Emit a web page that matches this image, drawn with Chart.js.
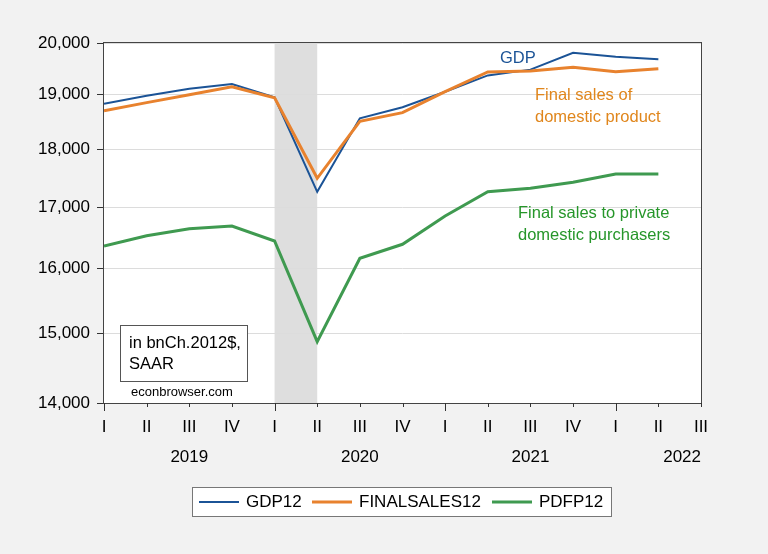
<!DOCTYPE html>
<html>
<head>
<meta charset="utf-8">
<title>GDP and final sales</title>
<script src="https://cdn.jsdelivr.net/npm/chart.js@4.4.1/dist/chart.umd.min.js"></script>
<style>
  html, body { margin: 0; padding: 0; background: #f2f2f2; }
  canvas { display: block; }
</style>
</head>
<body>
<canvas id="chart" width="768" height="554"></canvas>
<script>
    // data, bn Ch.2012$ SAAR
    var quarters = ['2019Q1', '2019Q2', '2019Q3', '2019Q4', '2020Q1', '2020Q2', '2020Q3',
        '2020Q4', '2021Q1', '2021Q2', '2021Q3', '2021Q4', '2022Q1', '2022Q2'];
    var gdp12 = [18833, 18983, 19113, 19202, 18952, 17258, 18561, 18768, 19056, 19368, 19479, 19806, 19728, 19682];
    var finalsales12 = [18702, 18853, 19002, 19153, 18945, 17491, 18508, 18666, 19058, 19434, 19453, 19525, 19440, 19498];
    var pdfp12 = [16357, 16524, 16639, 16684, 16438, 14877, 16158, 16384, 16850, 17261, 17319, 17422, 17566, 17566];
    var yTicks = [14000, 15000, 16000, 17000, 18000, 19000, 20000];
    var quarterLabels = ['I', 'II', 'III', 'IV'];
    var years = ['2019', '2020', '2021', '2022'];
    var recession = ['2020Q1', '2020Q2'];
    var axisQuarters = quarters.length + 1; // axis runs to 2022Q3

    var FONT = '"Liberation Sans", Arial, sans-serif';
    var BLUE = '#1b5396', ORANGE = '#e8822e', GREEN = '#3f9a50';

    function points(arr) {
        return arr.map(function(v, i) { return { x: i, y: v }; });
    }

    var decor = {
        id: 'decor',
        beforeDraw: function(chart) {
            var ctx = chart.ctx, a = chart.chartArea, xs = chart.scales.x;
            ctx.save();
            ctx.fillStyle = '#f2f2f2';
            ctx.fillRect(0, 0, chart.width, chart.height);
            ctx.fillStyle = '#ffffff';
            ctx.fillRect(a.left, a.top, a.right - a.left, a.bottom - a.top);
            // recession shading
            var x0 = xs.getPixelForValue(quarters.indexOf(recession[0]));
            var x1 = xs.getPixelForValue(quarters.indexOf(recession[1]));
            ctx.fillStyle = '#dedede';
            ctx.fillRect(x0, a.top, x1 - x0, a.bottom - a.top);
            ctx.restore();
        },
        afterDraw: function(chart) {
            var ctx = chart.ctx, a = chart.chartArea, xs = chart.scales.x;
            ctx.save();

            // frame
            ctx.strokeStyle = '#444';
            ctx.lineWidth = 1;
            ctx.strokeRect(a.left - 0.5, a.top - 0.5, a.right - a.left + 1, a.bottom - a.top + 1);

            // quarter tick marks, longer at Q1
            ctx.beginPath();
            for (var i = 0; i < axisQuarters; i++) {
                var tx = Math.round(xs.getPixelForValue(i)) + 0.5;
                ctx.moveTo(tx, a.bottom);
                ctx.lineTo(tx, a.bottom + (i % 4 === 0 ? 8 : 4));
            }
            ctx.strokeStyle = '#333';
            ctx.stroke();

            // year labels
            ctx.font = '17px ' + FONT;
            ctx.fillStyle = '#000';
            ctx.textAlign = 'center';
            ctx.textBaseline = 'middle';
            years.forEach(function(yr, k) {
                var w = ctx.measureText(yr).width;
                var cx = Math.min(xs.getPixelForValue(k * 4 + 2), a.right - w / 2);
                ctx.fillText(yr, cx, 457);
            });

            // series notes
            ctx.font = '16.5px ' + FONT;
            ctx.textAlign = 'left';
            ctx.fillStyle = BLUE;
            ctx.fillText('GDP', 500, 58);
            ctx.fillStyle = '#e0861c';
            ctx.fillText('Final sales of', 535, 95);
            ctx.fillText('domestic product', 535, 117);
            ctx.fillStyle = '#26962a';
            ctx.fillText('Final sales to private', 518, 213);
            ctx.fillText('domestic purchasers', 518, 235);

            // units box
            ctx.fillStyle = '#fff';
            ctx.fillRect(120.5, 325.5, 127, 56);
            ctx.strokeStyle = '#555';
            ctx.strokeRect(120.5, 325.5, 127, 56);
            ctx.fillStyle = '#000';
            ctx.fillText('in bnCh.2012$,', 129, 343);
            ctx.fillText('SAAR', 129, 364);
            ctx.font = '13px ' + FONT;
            ctx.fillText('econbrowser.com', 131, 392);

            // legend
            ctx.fillStyle = '#fff';
            ctx.fillRect(192.5, 487.5, 419, 29);
            ctx.strokeStyle = '#777';
            ctx.strokeRect(192.5, 487.5, 419, 29);
            ctx.font = '17px ' + FONT;
            var items = [
                { name: 'GDP12', color: BLUE, w: 2, x: 199 },
                { name: 'FINALSALES12', color: ORANGE, w: 3, x: 312 },
                { name: 'PDFP12', color: GREEN, w: 3, x: 492 }
            ];
            items.forEach(function(it) {
                ctx.beginPath();
                ctx.moveTo(it.x, 502);
                ctx.lineTo(it.x + 40, 502);
                ctx.strokeStyle = it.color;
                ctx.lineWidth = it.w;
                ctx.stroke();
                ctx.fillStyle = '#000';
                ctx.fillText(it.name, it.x + 47, 502);
            });

            ctx.restore();
        }
    };

    new Chart(document.getElementById('chart'), {
        type: 'line',
        data: {
            datasets: [{
                label: 'GDP12',
                data: points(gdp12),
                borderColor: BLUE,
                borderWidth: 2,
                order: 2
            }, {
                label: 'FINALSALES12',
                data: points(finalsales12),
                borderColor: ORANGE,
                borderWidth: 3,
                order: 1
            }, {
                label: 'PDFP12',
                data: points(pdfp12),
                borderColor: GREEN,
                borderWidth: 3,
                order: 0
            }]
        },
        options: {
            responsive: false,
            animation: false,
            devicePixelRatio: 1,
            layout: { padding: { left: 0, right: 67, top: 43, bottom: 0 } },
            elements: { point: { radius: 0 }, line: { tension: 0 } },
            plugins: { legend: { display: false }, tooltip: { enabled: false } },
            scales: {
                x: {
                    type: 'linear',
                    min: 0,
                    max: axisQuarters - 1,
                    afterBuildTicks: function(s) {
                        var t = [];
                        for (var i = 0; i < axisQuarters; i++) t.push({ value: i });
                        s.ticks = t;
                    },
                    afterFit: function(s) { s.height = 151; },
                    grid: { display: false, drawTicks: false },
                    border: { display: false },
                    ticks: {
                        padding: 14,
                        autoSkip: false,
                        maxRotation: 0,
                        color: '#000',
                        font: { family: FONT, size: 17 },
                        callback: function(v) { return quarterLabels[v % 4]; }
                    }
                },
                y: {
                    type: 'logarithmic',
                    min: yTicks[0],
                    max: yTicks[yTicks.length - 1],
                    afterBuildTicks: function(s) {
                        s.ticks = yTicks.map(function(v) { return { value: v }; });
                    },
                    afterFit: function(s) { s.width = 104; },
                    grid: { color: '#dcdcdc', tickLength: 7, tickColor: '#333' },
                    border: { display: false },
                    ticks: {
                        padding: 7,
                        color: '#000',
                        font: { family: FONT, size: 17 },
                        callback: function(v) { return Number(v).toLocaleString('en-US'); }
                    }
                }
            }
        },
        plugins: [decor]
    });
</script>
</body>
</html>
